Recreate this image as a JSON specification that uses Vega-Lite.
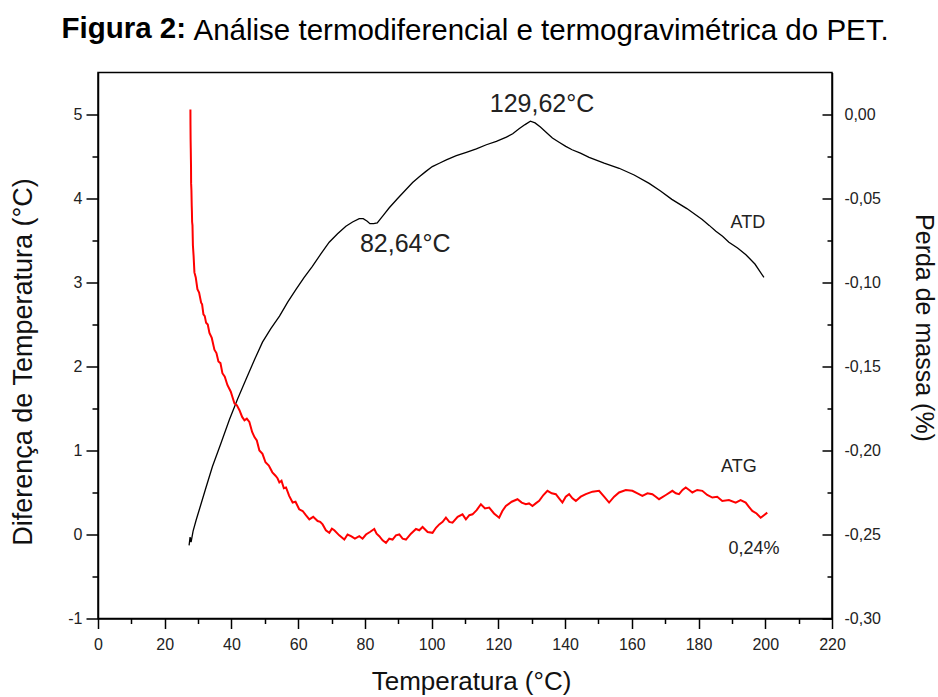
{
  "$schema": "https://vega.github.io/schema/vega-lite/v6.json",
  "background": "white",
  "padding": {"left": 9, "top": 13.5, "right": 5, "bottom": 0},
  "title": {"text": "Figura 2:", "anchor": "start", "frame": "group", "fontSize": 29.5, "fontWeight": "bold", "font": "Liberation Sans", "color": "black", "dx": -36.5, "offset": -29},
  "datasets": {
    "atd": [
      {"T": 27.3, "v": -0.13}, {"T": 27.6, "v": -0.03}, {"T": 27.9, "v": -0.09}, {"T": 28.5, "v": 0.04}, {"T": 29.4, "v": 0.17},
      {"T": 30.4, "v": 0.30}, {"T": 32.3, "v": 0.55}, {"T": 34.3, "v": 0.81}, {"T": 36.8, "v": 1.08}, {"T": 39.4, "v": 1.37},
      {"T": 41.9, "v": 1.62}, {"T": 44.4, "v": 1.85}, {"T": 46.9, "v": 2.08}, {"T": 49.3, "v": 2.29}, {"T": 51.8, "v": 2.45},
      {"T": 54.4, "v": 2.60}, {"T": 56.9, "v": 2.77}, {"T": 59.4, "v": 2.92}, {"T": 61.8, "v": 3.06}, {"T": 64.2, "v": 3.19},
      {"T": 66.8, "v": 3.34}, {"T": 69.3, "v": 3.48}, {"T": 71.8, "v": 3.58}, {"T": 74.3, "v": 3.67}, {"T": 76.3, "v": 3.72},
      {"T": 78.3, "v": 3.76}, {"T": 79.5, "v": 3.76}, {"T": 80.7, "v": 3.73}, {"T": 81.5, "v": 3.70}, {"T": 82.6, "v": 3.70},
      {"T": 83.7, "v": 3.71}, {"T": 85.5, "v": 3.80}, {"T": 87.3, "v": 3.89}, {"T": 89.8, "v": 4.00}, {"T": 92.4, "v": 4.11},
      {"T": 94.3, "v": 4.19}, {"T": 96.3, "v": 4.26}, {"T": 98.2, "v": 4.32}, {"T": 100.2, "v": 4.38}, {"T": 102.3, "v": 4.42},
      {"T": 104.4, "v": 4.46}, {"T": 107.4, "v": 4.51}, {"T": 110.4, "v": 4.55}, {"T": 113.4, "v": 4.59}, {"T": 116.4, "v": 4.64},
      {"T": 119.4, "v": 4.68}, {"T": 122.4, "v": 4.73}, {"T": 124.3, "v": 4.77}, {"T": 126.2, "v": 4.83}, {"T": 128.0, "v": 4.88},
      {"T": 129.6, "v": 4.92}, {"T": 131.0, "v": 4.90}, {"T": 132.6, "v": 4.85}, {"T": 134.3, "v": 4.79}, {"T": 136.2, "v": 4.72},
      {"T": 138.2, "v": 4.67}, {"T": 140.2, "v": 4.62}, {"T": 142.1, "v": 4.58}, {"T": 144.6, "v": 4.54}, {"T": 147.2, "v": 4.49},
      {"T": 151.7, "v": 4.42}, {"T": 156.2, "v": 4.36}, {"T": 160.7, "v": 4.28}, {"T": 165.2, "v": 4.18}, {"T": 168.6, "v": 4.09},
      {"T": 172.0, "v": 3.99}, {"T": 176.5, "v": 3.88}, {"T": 181.1, "v": 3.75}, {"T": 183.2, "v": 3.68}, {"T": 185.2, "v": 3.61},
      {"T": 187.2, "v": 3.55}, {"T": 189.1, "v": 3.48}, {"T": 191.7, "v": 3.41}, {"T": 194.2, "v": 3.33}, {"T": 196.9, "v": 3.22},
      {"T": 199.6, "v": 3.06}
    ],
    "atg": [
      {"T": 27.70, "w": 0.003}, {"T": 27.72, "w": -0.006}, {"T": 27.76, "w": -0.015}, {"T": 27.80, "w": -0.020}, {"T": 27.85, "w": -0.027},
      {"T": 27.88, "w": -0.031}, {"T": 27.91, "w": -0.041}, {"T": 28.00, "w": -0.045}, {"T": 28.09, "w": -0.054}, {"T": 28.15, "w": -0.058},
      {"T": 28.21, "w": -0.064}, {"T": 28.32, "w": -0.066}, {"T": 28.45, "w": -0.078}, {"T": 28.65, "w": -0.084}, {"T": 28.90, "w": -0.094},
      {"T": 29.3, "w": -0.097}, {"T": 29.80, "w": -0.104}, {"T": 30.3, "w": -0.106}, {"T": 30.91, "w": -0.112}, {"T": 31.2, "w": -0.113},
      {"T": 31.6, "w": -0.119}, {"T": 32.0, "w": -0.120}, {"T": 32.40, "w": -0.124}, {"T": 32.9, "w": -0.125}, {"T": 33.4, "w": -0.130},
      {"T": 34.1, "w": -0.133}, {"T": 34.89, "w": -0.140}, {"T": 35.5, "w": -0.142}, {"T": 36.09, "w": -0.147}, {"T": 36.7, "w": -0.148},
      {"T": 37.29, "w": -0.154}, {"T": 38.0, "w": -0.156}, {"T": 38.78, "w": -0.161}, {"T": 39.8, "w": -0.165}, {"T": 40.90, "w": -0.172},
      {"T": 41.6, "w": -0.173}, {"T": 42.4, "w": -0.176}, {"T": 43.2, "w": -0.180}, {"T": 43.9, "w": -0.182}, {"T": 44.6, "w": -0.181},
      {"T": 45.37, "w": -0.183}, {"T": 46.2, "w": -0.189}, {"T": 46.9, "w": -0.192}, {"T": 47.6, "w": -0.194}, {"T": 48.37, "w": -0.200},
      {"T": 49.3, "w": -0.202}, {"T": 50.2, "w": -0.207}, {"T": 51.2, "w": -0.209}, {"T": 52.26, "w": -0.213}, {"T": 53.2, "w": -0.215},
      {"T": 53.8, "w": -0.2165}, {"T": 54.36, "w": -0.219}, {"T": 55.0, "w": -0.218}, {"T": 55.7, "w": -0.2225}, {"T": 56.36, "w": -0.222},
      {"T": 57.3, "w": -0.227}, {"T": 58.34, "w": -0.231}, {"T": 59.2, "w": -0.2305}, {"T": 60.3, "w": -0.235}, {"T": 61.34, "w": -0.236},
      {"T": 62.3, "w": -0.2385}, {"T": 63.34, "w": -0.241}, {"T": 64.5, "w": -0.2395}, {"T": 65.83, "w": -0.242}, {"T": 66.6, "w": -0.2425},
      {"T": 67.33, "w": -0.244}, {"T": 68.3, "w": -0.2475}, {"T": 69.33, "w": -0.249}, {"T": 70.1, "w": -0.2465}, {"T": 70.83, "w": -0.2475},
      {"T": 72.3, "w": -0.2505}, {"T": 73.83, "w": -0.253}, {"T": 74.8, "w": -0.250}, {"T": 75.83, "w": -0.251}, {"T": 77.0, "w": -0.2525},
      {"T": 78.32, "w": -0.251}, {"T": 79.3, "w": -0.2525}, {"T": 80.32, "w": -0.250}, {"T": 81.5, "w": -0.2485}, {"T": 82.81, "w": -0.2467},
      {"T": 83.5, "w": -0.2495}, {"T": 84.31, "w": -0.251}, {"T": 85.3, "w": -0.2535}, {"T": 86.31, "w": -0.255}, {"T": 87.3, "w": -0.2525},
      {"T": 88.29, "w": -0.253}, {"T": 89.3, "w": -0.2505}, {"T": 90.30, "w": -0.250}, {"T": 91.3, "w": -0.2525}, {"T": 92.30, "w": -0.253},
      {"T": 93.8, "w": -0.2495}, {"T": 95.30, "w": -0.2467}, {"T": 96.3, "w": -0.2475}, {"T": 97.28, "w": -0.2455}, {"T": 98.8, "w": -0.2485},
      {"T": 100.27, "w": -0.249}, {"T": 101.3, "w": -0.246}, {"T": 102.28, "w": -0.244}, {"T": 103.3, "w": -0.2425}, {"T": 104.28, "w": -0.240},
      {"T": 105.3, "w": -0.2425}, {"T": 106.26, "w": -0.243}, {"T": 107.8, "w": -0.2395}, {"T": 109.25, "w": -0.238}, {"T": 110.27, "w": -0.241},
      {"T": 111.3, "w": -0.2385}, {"T": 112.25, "w": -0.238}, {"T": 113.5, "w": -0.2355}, {"T": 114.76, "w": -0.232}, {"T": 116.0, "w": -0.2345},
      {"T": 117.25, "w": -0.234}, {"T": 118.7, "w": -0.2375}, {"T": 120.24, "w": -0.240}, {"T": 121.2, "w": -0.236}, {"T": 122.25, "w": -0.233},
      {"T": 124.0, "w": -0.2305}, {"T": 125.73, "w": -0.229}, {"T": 127.0, "w": -0.231}, {"T": 128.24, "w": -0.232}, {"T": 129.2, "w": -0.2315},
      {"T": 130.22, "w": -0.233}, {"T": 131.2, "w": -0.2315}, {"T": 132.23, "w": -0.230}, {"T": 133.5, "w": -0.2265}, {"T": 134.71, "w": -0.224},
      {"T": 136.0, "w": -0.2255}, {"T": 137.23, "w": -0.226}, {"T": 138.2, "w": -0.2285}, {"T": 139.20, "w": -0.231}, {"T": 140.2, "w": -0.2275},
      {"T": 141.21, "w": -0.226}, {"T": 142.2, "w": -0.2285}, {"T": 143.22, "w": -0.230}, {"T": 144.7, "w": -0.2275}, {"T": 146.21, "w": -0.226},
      {"T": 148.2, "w": -0.2245}, {"T": 150.19, "w": -0.224}, {"T": 151.7, "w": -0.2275}, {"T": 153.19, "w": -0.231}, {"T": 154.7, "w": -0.2275},
      {"T": 156.18, "w": -0.225}, {"T": 158.2, "w": -0.2235}, {"T": 160.17, "w": -0.224}, {"T": 161.7, "w": -0.2255}, {"T": 163.16, "w": -0.227},
      {"T": 164.7, "w": -0.2255}, {"T": 166.16, "w": -0.226}, {"T": 167.2, "w": -0.2275}, {"T": 168.16, "w": -0.229}, {"T": 170.2, "w": -0.2265},
      {"T": 172.15, "w": -0.224}, {"T": 173.2, "w": -0.2255}, {"T": 174.15, "w": -0.226}, {"T": 175.2, "w": -0.2235}, {"T": 176.16, "w": -0.222},
      {"T": 177.2, "w": -0.2235}, {"T": 178.14, "w": -0.225}, {"T": 179.6, "w": -0.2235}, {"T": 181.13, "w": -0.224}, {"T": 182.6, "w": -0.2265},
      {"T": 184.13, "w": -0.228}, {"T": 185.6, "w": -0.2275}, {"T": 187.12, "w": -0.230}, {"T": 189.1, "w": -0.2295}, {"T": 191.13, "w": -0.231},
      {"T": 192.6, "w": -0.2295}, {"T": 194.13, "w": -0.231}, {"T": 195.1, "w": -0.2335}, {"T": 196.11, "w": -0.236}, {"T": 197.4, "w": -0.2375},
      {"T": 198.62, "w": -0.240}, {"T": 199.6, "w": -0.2385}, {"T": 200.60, "w": -0.237}
    ]
  },
  "vconcat": [
    {
      "width": 734,
      "height": 546,
      "title": {"text": "Análise termodiferencial e termogravimétrica do PET.", "anchor": "start", "frame": "group", "fontSize": 29.5, "fontWeight": "normal", "font": "Liberation Sans", "color": "black", "dx": 95.5, "offset": 26},
      "layer": [
        {
          "data": {"name": "atd"},
          "mark": {"type": "line", "color": "black", "strokeWidth": 1.3},
          "encoding": {
            "x": {"field": "T", "type": "quantitative", "scale": {"domain": [0, 220], "nice": false, "zero": false},
              "axis": {"orient": "bottom", "values": [0, 20, 40, 60, 80, 100, 120, 140, 160, 180, 200, 220], "tickSize": 10, "labelPadding": 8, "title": "Temperatura (°C)", "titlePadding": 16, "titleX": 373, "titleFontSize": 26}},
            "y": {"field": "v", "type": "quantitative", "scale": {"domain": [-1, 5.5], "nice": false, "zero": false},
              "axis": {"orient": "left", "values": [-1, 0, 1, 2, 3, 4, 5], "tickSize": 12, "labelPadding": 4, "labelExpr": "replace(format(datum.value, 'd'), '\u2212', '-')", "title": "Diferença de Temperatura (°C)", "titlePadding": 30, "titleY": 289, "titleFontSize": 27}}
          }
        },
        {
          "data": {"name": "atd"},
          "mark": {"type": "line", "opacity": 0},
          "encoding": {
            "x": {"field": "T", "type": "quantitative", "scale": {"domain": [0, 220], "nice": false, "zero": false},
              "axis": {"orient": "bottom", "values": [10, 30, 50, 70, 90, 110, 130, 150, 170, 190, 210], "tickSize": 5, "labels": false, "domain": false, "title": null}},
            "y": {"field": "v", "type": "quantitative", "scale": {"domain": [-1, 5.5], "nice": false, "zero": false},
              "axis": {"orient": "left", "values": [-0.5, 0.5, 1.5, 2.5, 3.5, 4.5], "tickSize": 6, "labels": false, "domain": false, "title": null}}
          }
        },
        {
          "data": {"name": "atg"},
          "mark": {"type": "line", "color": "#ff0000", "strokeWidth": 2},
          "encoding": {
            "x": {"field": "T", "type": "quantitative", "scale": {"domain": [0, 220], "nice": false, "zero": false}, "axis": null},
            "y": {"field": "w", "type": "quantitative", "scale": {"domain": [-0.3, 0.025], "nice": false, "zero": false},
              "axis": {"orient": "right", "values": [0, -0.05, -0.1, -0.15, -0.2, -0.25, -0.3], "tickSize": -10, "labelPadding": 22, "labelExpr": "replace(replace(format(datum.value, '.2f'), '.', ','), '\u2212', '-')", "title": "Perda de massa (%)", "titlePadding": 30, "titleY": 255, "titleFontSize": 25}}
          }
        },
        {
          "data": {"name": "atg"},
          "mark": {"type": "line", "opacity": 0},
          "encoding": {
            "x": {"field": "T", "type": "quantitative", "scale": {"domain": [0, 220], "nice": false, "zero": false}, "axis": null},
            "y": {"field": "w", "type": "quantitative", "scale": {"domain": [-0.3, 0.025], "nice": false, "zero": false},
              "axis": {"orient": "right", "values": [-0.025, -0.075, -0.125, -0.175, -0.225, -0.275], "tickSize": -5, "labels": false, "domain": false, "title": null}}
          }
        },
        {
          "data": {"values": [{}]},
          "mark": {"type": "text", "fontSize": 25, "color": "#222", "align": "center", "baseline": "middle"},
          "encoding": {
            "x": {"datum": 133.1, "type": "quantitative", "scale": {"domain": [0, 220], "nice": false, "zero": false}, "axis": null},
            "y": {"datum": 5.12, "type": "quantitative", "scale": {"domain": [-1, 5.5], "nice": false, "zero": false}, "axis": null},
            "text": {"value": "129,62°C"}
          }
        },
        {
          "data": {"values": [{}]},
          "mark": {"type": "text", "fontSize": 25, "color": "#222", "align": "center", "baseline": "middle"},
          "encoding": {
            "x": {"datum": 92.1, "type": "quantitative", "scale": {"domain": [0, 220], "nice": false, "zero": false}, "axis": null},
            "y": {"datum": 3.46, "type": "quantitative", "scale": {"domain": [-1, 5.5], "nice": false, "zero": false}, "axis": null},
            "text": {"value": "82,64°C"}
          }
        },
        {
          "data": {"values": [{}]},
          "mark": {"type": "text", "fontSize": 18, "color": "#222", "align": "center", "baseline": "middle"},
          "encoding": {
            "x": {"datum": 194.8, "type": "quantitative", "scale": {"domain": [0, 220], "nice": false, "zero": false}, "axis": null},
            "y": {"datum": 3.71, "type": "quantitative", "scale": {"domain": [-1, 5.5], "nice": false, "zero": false}, "axis": null},
            "text": {"value": "ATD"}
          }
        },
        {
          "data": {"values": [{}]},
          "mark": {"type": "text", "fontSize": 18, "color": "#222", "align": "center", "baseline": "middle"},
          "encoding": {
            "x": {"datum": 192.1, "type": "quantitative", "scale": {"domain": [0, 220], "nice": false, "zero": false}, "axis": null},
            "y": {"datum": 0.80, "type": "quantitative", "scale": {"domain": [-1, 5.5], "nice": false, "zero": false}, "axis": null},
            "text": {"value": "ATG"}
          }
        },
        {
          "data": {"values": [{}]},
          "mark": {"type": "text", "fontSize": 18, "color": "#222", "align": "center", "baseline": "middle"},
          "encoding": {
            "x": {"datum": 196.6, "type": "quantitative", "scale": {"domain": [0, 220], "nice": false, "zero": false}, "axis": null},
            "y": {"datum": -0.17, "type": "quantitative", "scale": {"domain": [-1, 5.5], "nice": false, "zero": false}, "axis": null},
            "text": {"value": "0,24%"}
          }
        }
      ],
      "resolve": {"scale": {"y": "independent"}, "axis": {"x": "independent"}}
    }
  ],
  "config": {
    "font": "Liberation Sans",
    "view": {"stroke": "black", "strokeWidth": 1.5},
    "axis": {
      "grid": false, "domainColor": "black", "domainWidth": 1.5, "tickColor": "black", "tickWidth": 1.5,
      "labelColor": "#222", "labelFont": "Liberation Sans", "labelFontSize": 16, "labelFlush": false, "labelOverlap": false,
      "titleColor": "#111", "titleFont": "Liberation Sans", "titleFontSize": 26, "titleFontWeight": "normal"
    },
    "text": {"font": "Liberation Sans"}
  }
}
